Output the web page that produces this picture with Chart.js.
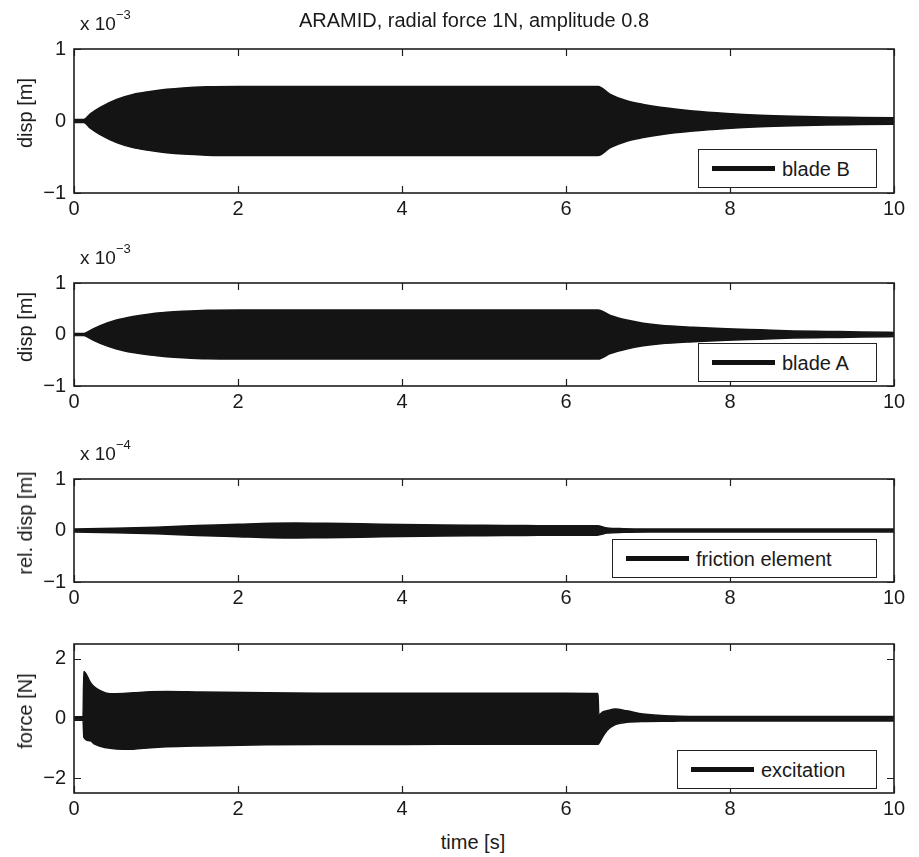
<!DOCTYPE html>
<html><head><meta charset="utf-8">
<script src="https://cdn.jsdelivr.net/npm/chart.js@4/dist/chart.umd.min.js"></script>
<style>
html,body{margin:0;padding:0;background:#fff;}
#wrap{position:relative;width:919px;height:857px;overflow:hidden;background:#fff;font-family:'Liberation Sans',Arial,Helvetica,sans-serif;color:#1a1a1a;}
canvas{position:absolute;left:0;}
.t{position:absolute;white-space:nowrap;font-size:20px;line-height:1;transform:translate(-50%,-50%);}
.yl{position:absolute;white-space:nowrap;font-size:20px;line-height:1;transform:translate(-50%,-50%) rotate(-90deg);}
.exp{position:absolute;white-space:nowrap;font-size:19px;line-height:1;transform:translateY(-50%);}
.exp sup{font-size:13px;position:relative;top:-3px;}
.leg{position:absolute;border:1px solid #222;background:#fff;height:39px;display:flex;align-items:center;box-sizing:border-box;}
.leg .ln{width:63px;height:5px;background:#111;margin-left:13px;margin-right:7px;flex:none;}
.leg span{font-size:20px;line-height:1;}
</style></head>
<body><div id="wrap"></div>
<script>
// ---- data ----
// Panel 1: blade B displacement envelope, units of 1e-3 m
const tBladeB = [0, 0.12, 0.2, 0.32, 0.52, 0.72, 0.93, 1.13, 1.33, 1.62, 2, 3, 4, 5, 6, 6.39, 6.54, 6.74, 6.94, 7.15, 7.55, 7.96, 8.37, 8.77, 9.18, 9.6, 10];
const upBladeB = [0.02, 0.02, 0.1, 0.19, 0.3, 0.37, 0.41, 0.44, 0.46, 0.475, 0.48, 0.48, 0.48, 0.48, 0.48, 0.48, 0.37, 0.28, 0.23, 0.19, 0.14, 0.105, 0.08, 0.065, 0.055, 0.05, 0.045];
const loBladeB = [-0.02, -0.02, -0.1, -0.19, -0.3, -0.37, -0.41, -0.44, -0.46, -0.475, -0.48, -0.48, -0.48, -0.48, -0.48, -0.48, -0.37, -0.28, -0.23, -0.19, -0.14, -0.105, -0.08, -0.065, -0.055, -0.05, -0.045];
// Panel 2: blade A displacement envelope, units of 1e-3 m
const tBladeA = [0, 0.12, 0.2, 0.32, 0.52, 0.72, 0.93, 1.13, 1.33, 1.62, 2, 3, 4, 5, 6, 6.39, 6.54, 6.74, 6.94, 7.15, 7.55, 7.96, 8.37, 8.77, 9.18, 9.6, 10];
const upBladeA = [0.02, 0.02, 0.08, 0.17, 0.28, 0.35, 0.4, 0.43, 0.45, 0.47, 0.475, 0.475, 0.475, 0.475, 0.475, 0.475, 0.37, 0.28, 0.22, 0.18, 0.14, 0.11, 0.09, 0.07, 0.06, 0.05, 0.04];
const loBladeA = [-0.02, -0.02, -0.08, -0.17, -0.28, -0.35, -0.4, -0.43, -0.45, -0.47, -0.475, -0.475, -0.475, -0.475, -0.475, -0.475, -0.37, -0.28, -0.22, -0.18, -0.14, -0.11, -0.09, -0.07, -0.06, -0.05, -0.04];
// Panel 3: friction element relative displacement envelope, units of 1e-4 m
const tFric = [0, 0.5, 1.0, 1.5, 2.0, 2.4, 2.7, 3.0, 3.5, 4.0, 4.5, 5.0, 5.5, 6.0, 6.38, 6.5, 6.7, 7.0, 8.0, 9.0, 10];
const upFric = [0.03, 0.045, 0.065, 0.095, 0.12, 0.14, 0.145, 0.14, 0.13, 0.115, 0.105, 0.1, 0.095, 0.09, 0.09, 0.05, 0.035, 0.03, 0.03, 0.03, 0.03];
const loFric = [-0.03, -0.045, -0.065, -0.095, -0.12, -0.14, -0.145, -0.14, -0.13, -0.115, -0.105, -0.1, -0.095, -0.09, -0.09, -0.05, -0.035, -0.03, -0.03, -0.03, -0.03];
// Panel 4: excitation force envelope, N
const tExc = [0, 0.11, 0.12, 0.2, 0.24, 0.32, 0.44, 0.6, 0.72, 0.93, 1.13, 1.54, 2.35, 3, 4, 5, 6, 6.39, 6.4, 6.45, 6.5, 6.6, 6.74, 6.94, 7.3, 7.5, 8, 9, 10];
const upExc = [0.06, 0.06, 1.58, 1.21, 1.08, 0.93, 0.83, 0.84, 0.86, 0.9, 0.91, 0.89, 0.86, 0.85, 0.85, 0.85, 0.85, 0.84, 0.12, 0.22, 0.26, 0.32, 0.26, 0.15, 0.08, 0.07, 0.07, 0.07, 0.07];
const loExc = [-0.06, -0.06, -0.63, -0.75, -0.84, -0.93, -1.0, -1.03, -1.03, -0.98, -0.95, -0.92, -0.88, -0.87, -0.87, -0.86, -0.86, -0.86, -0.84, -0.6, -0.4, -0.2, -0.13, -0.1, -0.09, -0.08, -0.08, -0.08, -0.08];
// Axis ticks
const xTicks = [0, 2, 4, 6, 8, 10];
const yTicksDisp = [-1, 0, 1];
const yTicksForce = [-2, 0, 2];
const seriesNames = ['blade B', 'blade A', 'friction element', 'excitation'];
const yTitles = ['disp [m]', 'disp [m]', 'rel. disp [m]', 'force [N]'];
const yExponents = ['\u22123', '\u22123', '\u22124', null];

// ---- layout ----
const FONT = "'Liberation Sans', Arial, Helvetica, sans-serif";
const panels = [
  {top: 39, h: 154, t: tBladeB, up: upBladeB, lo: loBladeB, ymin: -1, ymax: 1, yt: yTicksDisp, leg: {left: 698, top: 149, w: 179}},
  {top: 273, h: 113, t: tBladeA, up: upBladeA, lo: loBladeA, ymin: -1, ymax: 1, yt: yTicksDisp, leg: {left: 698, top: 343, w: 179}},
  {top: 469, h: 113, t: tFric, up: upFric, lo: loFric, ymin: -1, ymax: 1, yt: yTicksDisp, leg: {left: 612, top: 539, w: 265}},
  {top: 634, h: 159, t: tExc, up: upExc, lo: loExc, ymin: -2.5, ymax: 2.5, yt: yTicksForce, leg: {left: 677, top: 750, w: 200}}
];
const PLOT_L = 74, PLOT_R = 894, PAD_T = 10, XAX_H = 32, W = 919;
const wrap = document.getElementById('wrap');
const fmt = v => String(v).replace('-', '\u2212');

const boxPlugin = {
  id: 'boxTicks',
  afterDatasetsDraw(chart) {
    const {ctx, chartArea: a, scales} = chart;
    ctx.save();
    ctx.strokeStyle = '#1e1e1e';
    ctx.lineWidth = 1.6;
    ctx.strokeRect(a.left, a.top, a.right - a.left, a.bottom - a.top);
    ctx.lineWidth = 1.2;
    const L = 7;
    ctx.beginPath();
    scales.x.ticks.forEach(tk => {
      const px = Math.round(scales.x.getPixelForValue(tk.value)) + 0.5;
      ctx.moveTo(px, a.bottom); ctx.lineTo(px, a.bottom - L);
      ctx.moveTo(px, a.top); ctx.lineTo(px, a.top + L);
    });
    scales.y.ticks.forEach(tk => {
      const py = Math.round(scales.y.getPixelForValue(tk.value)) + 0.5;
      ctx.moveTo(a.left, py); ctx.lineTo(a.left + L, py);
      ctx.moveTo(a.right, py); ctx.lineTo(a.right - L, py);
    });
    ctx.stroke();
    ctx.restore();
  }
};

panels.forEach((p, i) => {
  const cv = document.createElement('canvas');
  const H = PAD_T + p.h + XAX_H;
  cv.width = W; cv.height = H;
  cv.style.top = (p.top - PAD_T) + 'px';
  cv.style.width = W + 'px'; cv.style.height = H + 'px';
  wrap.appendChild(cv);
  const upPts = p.t.map((x, k) => ({x, y: p.up[k]}));
  const loPts = p.t.map((x, k) => ({x, y: p.lo[k]}));
  new Chart(cv.getContext('2d'), {
    type: 'line',
    data: {datasets: [
      {label: seriesNames[i], data: upPts, borderColor: '#141414', backgroundColor: '#141414', borderWidth: 1.5, pointRadius: 0, fill: '+1', cubicInterpolationMode: 'monotone'},
      {label: seriesNames[i] + ' (lower)', data: loPts, borderColor: '#141414', backgroundColor: '#141414', borderWidth: 1.5, pointRadius: 0, fill: false, cubicInterpolationMode: 'monotone'}
    ]},
    options: {
      responsive: false, animation: false, devicePixelRatio: 1,
      layout: {padding: {left: 0, right: W - PLOT_R, top: PAD_T, bottom: 0}},
      plugins: {legend: {display: false}, tooltip: {enabled: false}, title: {display: false}},
      scales: {
        x: {type: 'linear', min: 0, max: 10,
            afterBuildTicks: s => { s.ticks = xTicks.map(v => ({value: v})); },
            afterFit: s => { s.height = XAX_H; },
            grid: {display: false, drawTicks: false}, border: {display: false},
            ticks: {padding: 4, color: '#1a1a1a', font: {family: FONT, size: 20}, maxRotation: 0, callback: v => fmt(v)}},
        y: {type: 'linear', min: p.ymin, max: p.ymax,
            afterBuildTicks: s => { s.ticks = p.yt.map(v => ({value: v})); },
            afterFit: s => { s.width = PLOT_L; },
            grid: {display: false, drawTicks: false}, border: {display: false},
            ticks: {padding: 8, color: '#1a1a1a', font: {family: FONT, size: 20}, callback: v => fmt(v)}}
      }
    },
    plugins: [boxPlugin]
  });

  const yl = document.createElement('div');
  yl.className = 'yl'; yl.textContent = yTitles[i];
  yl.style.left = '25px'; yl.style.top = (p.top + p.h / 2 - 3) + 'px';
  wrap.appendChild(yl);
  if (yExponents[i]) {
    const ex = document.createElement('div');
    ex.className = 'exp';
    ex.innerHTML = 'x 10<sup>' + yExponents[i] + '</sup>';
    ex.style.left = '80px'; ex.style.top = (p.top - 17) + 'px';
    wrap.appendChild(ex);
  }
  const lg = document.createElement('div');
  lg.className = 'leg';
  lg.style.left = p.leg.left + 'px'; lg.style.top = p.leg.top + 'px'; lg.style.width = p.leg.w + 'px';
  lg.innerHTML = '<div class="ln"></div><span>' + seriesNames[i] + '</span>';
  wrap.appendChild(lg);
});

const title = document.createElement('div');
title.className = 't'; title.textContent = 'ARAMID, radial force 1N, amplitude 0.8';
title.style.left = '474px'; title.style.top = '20px';
wrap.appendChild(title);
const xl = document.createElement('div');
xl.className = 't'; xl.textContent = 'time [s]';
xl.style.left = '473px'; xl.style.top = '842px';
wrap.appendChild(xl);
</script></body></html>
